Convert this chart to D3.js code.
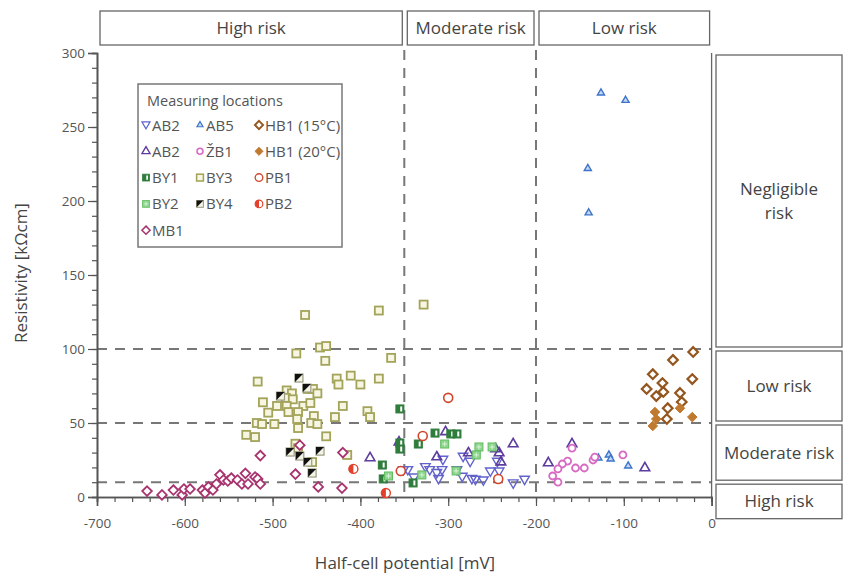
<!DOCTYPE html>
<html>
<head>
<meta charset="utf-8">
<script src="https://cdn.jsdelivr.net/npm/d3@7"></script>
<style>
  body { margin: 0; background: #fff; }
  text { font-family: "Open Sans", "Noto Sans", sans-serif; }
</style>
</head>
<body>
<svg id="chart" width="846" height="575"></svg>
<script>
// data: [half-cell potential mV, resistivity kOhm cm]
var ab2Down = [[-351,18],[-346,18],[-339,13],[-326,20],[-321,18],[-313,16],[-307,18],[-311,12],
  [-306,25],[-290,18],[-284,13.5],[-283,27],[-275,23.6],[-273,12],[-269,11.5],[-260,11],
  [-252,17],[-244,23.6],[-242,17],[-226,9],[-213,11.5]];
var ab5 = [[-126,273],[-98,268],[-141,222],[-140,192],[-129,26.4],[-117,28.4],[-115,25.7],[-95,21]];
var hb1_15 = [[-21,98],[-44,92.6],[-67,83],[-22,79.7],[-56,77],[-74,73],[-55,71],[-63,68.2],
  [-36,70.3],[-34,64.2],[-50,60],[-51,52.7]];
var ab2Up = [[-303,44],[-356,37],[-389,26.4],[-313,27],[-277,29.7],[-246,32.4],[-242,29.7],
  [-240,23.6],[-226,35.8],[-186,23],[-159,35.8],[-76,19.6]];
var zb1 = [[-159,33],[-164,24.3],[-170,22.3],[-175,19],[-181,14.2],[-175,10],[-155,19.6],
  [-145,19.6],[-135,25],[-133,27],[-101,28.4]];
var hb1_20 = [[-64.5,57.4],[-36,60],[-63,52.7],[-22,54],[-67,48]];
var by1 = [[-355,59.5],[-355,36.5],[-355,32.4],[-315,43.2],[-334,35.8],[-297,42.6],[-290,42.6],
  [-375,21.6],[-374,12.2],[-340,9.5]];
var by3 = [[-463,123],[-379,126],[-328,130],[-446,101],[-439,102],[-473,97],[-440,92],[-365,94],
  [-517,78],[-427,80],[-425,76],[-411,82],[-400,76],[-379,80],[-484,72],[-460,73],[-454,73],
  [-478,70],[-449,70],[-511,64],[-485,67],[-477,66],[-495,61.5],[-484,61.5],[-465,61.5],
  [-457,63.5],[-505,57],[-482,57.4],[-471,57.4],[-420,61.5],[-429,54],[-392,58],[-389,54],
  [-472,52.7],[-453,54.7],[-518,50],[-512,49.3],[-498,49.3],[-471,46.6],[-456,50],[-449,49.3],
  [-530,42],[-520,40.5],[-439,41],[-474,36],[-471,33],[-455,23.6],[-415,28.4]];
var pb1 = [[-300,67],[-329,41.2],[-243,12.2],[-354,17.6]];
var by2 = [[-304,35.8],[-368,14.2],[-330,14.9],[-291,17.6],[-265,33.8],[-250,33.8],[-268,28.4]];
var by4 = [[-470,80.4],[-491,68.2],[-461,73.6],[-480,30.4],[-469,27.7],[-446,31],[-460,23.6],[-455,16.2]];
var pb2 = [[-408,19],[-371,2.7]];
var mb1 = [[-643,4],[-626,1.4],[-613,4.7],[-603,1.4],[-601,5.4],[-594,5.4],[-580,4.7],[-577,2.7],
  [-573,6.8],[-568,4.7],[-564,8.8],[-560,15],[-556,11.5],[-551,10.8],[-547,12.8],[-540,11.5],
  [-535,8.8],[-531,16],[-528,8.8],[-520,13.5],[-517,12.2],[-514,8.8],[-514,28],[-469,35],
  [-474,15.5],[-448,6.8],[-421,6],[-420,30]];

var xTicks = [-700, -600, -500, -400, -300, -200, -100, 0];
var yTicks = [0, 50, 100, 150, 200, 250, 300];
var xZones = [{from: -700, to: -350, label: "High risk"}, {from: -350, to: -200, label: "Moderate risk"},
  {from: -200, to: 0, label: "Low risk"}];
var yZones = [{from: 100, to: 300, label: ["Negligible", "risk"]}, {from: 50, to: 100, label: ["Low risk"]},
  {from: 10, to: 50, label: ["Moderate risk"]}, {from: -16, to: 10, label: ["High risk"]}];
var xLimits = [-350, -200];
var yLimits = [100, 50, 10];

// series in legend order (row by row, 3 columns)
var series = [
  {label: "AB2", kind: "triDown", data: ab2Down},
  {label: "AB5", kind: "triSmall", data: ab5},
  {label: "HB1 (15°C)", kind: "diamondOpen", data: hb1_15},
  {label: "AB2", kind: "triUp", data: ab2Up},
  {label: "ŽB1", kind: "ring", data: zb1},
  {label: "HB1 (20°C)", kind: "diamondFill", data: hb1_20},
  {label: "BY1", kind: "by1", data: by1},
  {label: "BY3", kind: "by3", data: by3},
  {label: "PB1", kind: "pb1", data: pb1},
  {label: "BY2", kind: "by2", data: by2},
  {label: "BY4", kind: "by4", data: by4},
  {label: "PB2", kind: "pb2", data: pb2},
  {label: "MB1", kind: "mb1", data: mb1}
];

var svg = d3.select("#chart");
var x = d3.scaleLinear().domain([-700, 0]).range([97, 711.6]);
var y = d3.scaleLinear().domain([0, 300]).range([497, 53]);

// draw one marker into group g
function marker(g, kind) {
  var tri = d3.symbol(d3.symbolTriangle, 40)();
  var dia = "M0,-4.8L4.8,0L0,4.8L-4.8,0Z";
  switch (kind) {
    case "triDown":
      g.append("path").attr("d", tri).attr("transform", "rotate(180) translate(0,1)")
        .attr("fill", "none").attr("stroke", "#6262cc").attr("stroke-width", 1.4);
      break;
    case "triUp":
      g.append("path").attr("d", tri).attr("fill", "none")
        .attr("stroke", "#5c3c9e").attr("stroke-width", 1.6);
      break;
    case "triSmall":
      g.append("path").attr("d", d3.symbol(d3.symbolTriangle, 22)()).attr("fill", "#c4d8f2")
        .attr("stroke", "#3d74c9").attr("stroke-width", 1.4);
      break;
    case "diamondOpen":
      g.append("path").attr("d", dia).attr("fill", "#fff")
        .attr("stroke", "#93561e").attr("stroke-width", 2.2);
      break;
    case "diamondFill":
      g.append("path").attr("d", dia).attr("fill", "#c07a30").attr("stroke", "#c07a30");
      break;
    case "mb1":
      g.append("path").attr("d", dia).attr("fill", "#fff")
        .attr("stroke", "#a8336e").attr("stroke-width", 1.8);
      break;
    case "ring":
      g.append("circle").attr("r", 3.5).attr("fill", "#fff")
        .attr("stroke", "#d76bc4").attr("stroke-width", 1.8);
      break;
    case "by1":
      g.append("rect").attr("x", -4).attr("y", -4).attr("width", 8).attr("height", 8)
        .attr("fill", "#2f7d3c").attr("stroke", "#2f7d3c");
      g.append("rect").attr("x", 0.3).attr("y", -2.5).attr("width", 2).attr("height", 5).attr("fill", "#fff");
      break;
    case "by2":
      g.append("rect").attr("x", -4).attr("y", -4).attr("width", 8).attr("height", 8)
        .attr("fill", "#8ed68e").attr("stroke", "#62bc62");
      g.append("path").attr("d", "M-2.5,0H2.5M0,-2.5V2.5").attr("stroke", "#d8f2d8").attr("stroke-width", 1);
      break;
    case "by3":
      g.append("rect").attr("x", -4).attr("y", -4).attr("width", 8).attr("height", 8)
        .attr("fill", "#f6f6e2").attr("stroke", "#a3a35a").attr("stroke-width", 1.8);
      break;
    case "by4":
      g.append("rect").attr("x", -4).attr("y", -4).attr("width", 8).attr("height", 8)
        .attr("fill", "#f4f4e6").attr("stroke", "#9a9a80").attr("stroke-width", 1.2);
      g.append("path").attr("d", "M-4,-4L4,-4L-4,4Z").attr("fill", "#111");
      break;
    case "pb1":
      g.append("circle").attr("r", 4.5).attr("fill", "#fff")
        .attr("stroke", "#d2452b").attr("stroke-width", 1.6);
      break;
    case "pb2":
      g.append("circle").attr("r", 4.5).attr("fill", "#fff")
        .attr("stroke", "#e2402a").attr("stroke-width", 1.4);
      g.append("path").attr("d", "M0,-4.5A4.5,4.5 0 0 0 0,4.5Z").attr("fill", "#e2402a");
      break;
  }
}

// zone boxes on top and right
var zoneTop = svg.append("g");
xZones.forEach(function (z) {
  var x0 = x(z.from) + 3, x1 = x(z.to) - 2;
  zoneTop.append("rect").attr("x", x0).attr("y", 11).attr("width", x1 - x0).attr("height", 34)
    .attr("fill", "#fff").attr("stroke", "#666").attr("stroke-width", 1.3);
  zoneTop.append("text").attr("x", (x0 + x1) / 2).attr("y", 34).attr("text-anchor", "middle")
    .attr("font-size", 17).attr("fill", "#444").text(z.label);
});
var zoneRight = svg.append("g");
yZones.forEach(function (z) {
  var y0 = y(z.to) + 2, y1 = y(z.from) - 2;
  zoneRight.append("rect").attr("x", 716).attr("y", y0).attr("width", 126).attr("height", y1 - y0)
    .attr("fill", "#fff").attr("stroke", "#666").attr("stroke-width", 1.3);
  var mid = (y0 + y1) / 2;
  z.label.forEach(function (t, i) {
    zoneRight.append("text").attr("x", 779).attr("y", mid + 6 + (i - (z.label.length - 1) / 2) * 24)
      .attr("text-anchor", "middle").attr("font-size", 17).attr("fill", "#444").text(t);
  });
});

// limit lines
var lines = svg.append("g").attr("stroke", "#777").attr("stroke-width", 2).attr("stroke-dasharray", "10 8");
yLimits.forEach(function (v) {
  lines.append("line").attr("x1", x(-700)).attr("x2", x(0)).attr("y1", y(v)).attr("y2", y(v));
});
xLimits.forEach(function (v) {
  lines.append("line").attr("x1", x(v)).attr("x2", x(v)).attr("y1", 50).attr("y2", y(0));
});

// right frame line
svg.append("line").attr("x1", x(0)).attr("x2", x(0)).attr("y1", y(300)).attr("y2", y(0))
  .attr("stroke", "#666").attr("stroke-width", 1.3);

// axes
function styleAxis(g) {
  g.selectAll("path.domain").attr("stroke", "#555").attr("stroke-width", 1.6);
  g.selectAll(".tick line").attr("stroke", "#555").attr("stroke-width", 1.2);
  g.selectAll(".tick text").attr("fill", "#555").attr("font-size", 13.5)
    .attr("font-family", "'Open Sans', 'Noto Sans', sans-serif");
}
svg.append("g").attr("transform", "translate(0," + y(0) + ")")
  .call(d3.axisBottom(x).tickValues(d3.range(-700, 1, 20)).tickSize(5).tickFormat(""))
  .call(styleAxis);
svg.append("g").attr("transform", "translate(0," + y(0) + ")")
  .call(d3.axisBottom(x).tickValues(xTicks).tickSize(9).tickPadding(12).tickFormat(function (d) { return String(d); }))
  .call(styleAxis);
svg.append("g").attr("transform", "translate(" + x(-700) + ",0)")
  .call(d3.axisLeft(y).tickValues(d3.range(0, 301, 10)).tickSize(5).tickFormat(""))
  .call(styleAxis);
svg.append("g").attr("transform", "translate(" + x(-700) + ",0)")
  .call(d3.axisLeft(y).tickValues(yTicks).tickSize(9).tickPadding(3).tickFormat(function (d) { return String(d); }))
  .call(styleAxis);

svg.append("text").attr("x", 405).attr("y", 569).attr("text-anchor", "middle")
  .attr("font-size", 17).attr("fill", "#444").text("Half-cell potential [mV]");
svg.append("text").attr("transform", "translate(27,273) rotate(-90)").attr("text-anchor", "middle")
  .attr("font-size", 17).attr("fill", "#444").text("Resistivity [kΩcm]");

// points
series.forEach(function (s) {
  svg.append("g").selectAll("g").data(s.data).enter().append("g")
    .attr("transform", function (d) { return "translate(" + x(d[0]) + "," + y(d[1]) + ")"; })
    .each(function () { marker(d3.select(this), s.kind); });
});

// legend
var legend = svg.append("g");
legend.append("rect").attr("x", 138).attr("y", 84).attr("width", 204).attr("height", 163)
  .attr("fill", "#fff").attr("stroke", "#777").attr("stroke-width", 1.5);
legend.append("text").attr("x", 147).attr("y", 106).attr("font-size", 14.5).attr("fill", "#555")
  .text("Measuring locations");
var colX = [146, 200, 259];
series.forEach(function (s, i) {
  var cx = colX[i % 3], cy = 125 + Math.floor(i / 3) * 26.3;
  var g = legend.append("g").attr("transform", "translate(" + cx + "," + cy + ")");
  marker(g.append("g").attr("transform", "scale(0.85)"), s.kind);
  g.append("text").attr("x", 6).attr("y", 5.5).attr("font-size", 15).attr("fill", "#555").text(s.label);
});
</script>
</body>
</html>
